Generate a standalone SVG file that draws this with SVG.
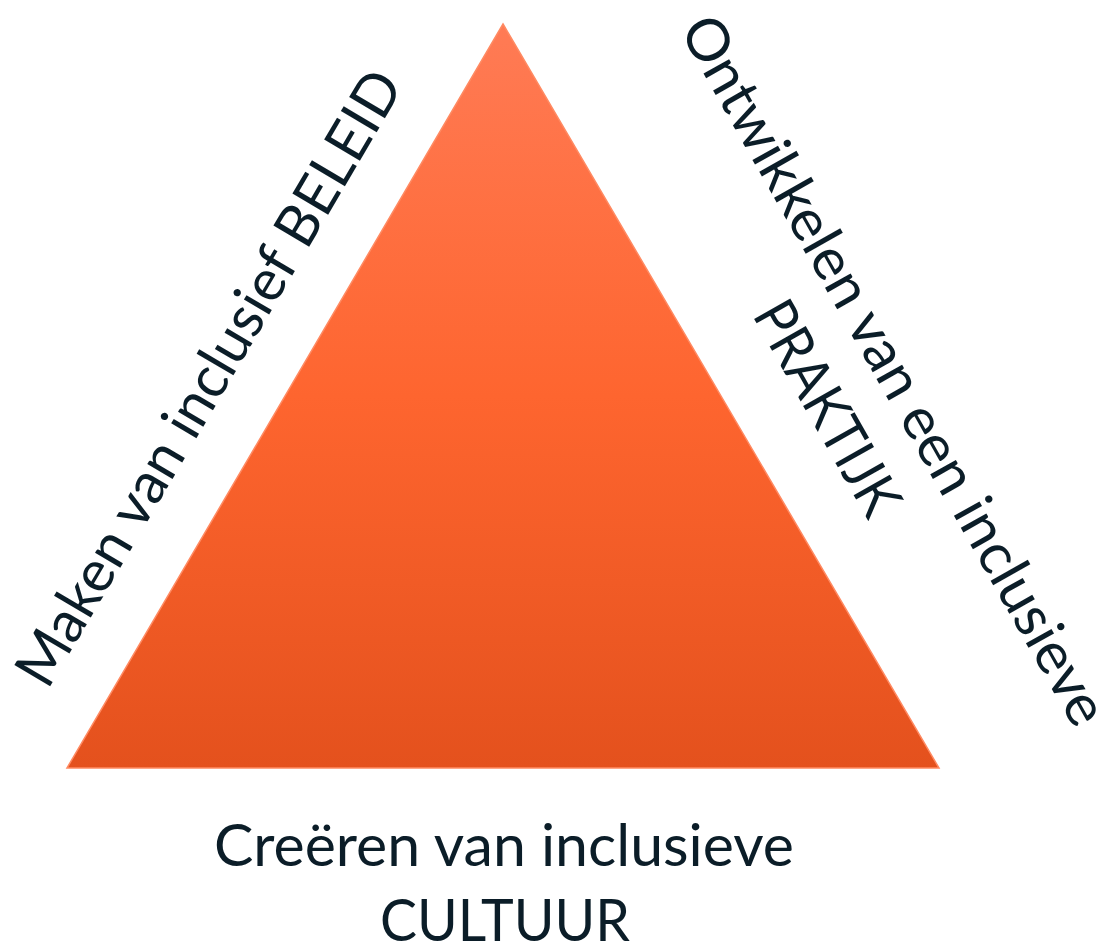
<svg xmlns="http://www.w3.org/2000/svg" width="1099" height="946" viewBox="0 0 1099 946">
  <defs>
    <linearGradient id="triFill" x1="0" y1="0" x2="0" y2="1">
      <stop offset="0" stop-color="#FF7B55"/>
      <stop offset="0.5" stop-color="#FE652F"/>
      <stop offset="1" stop-color="#E4511D"/>
    </linearGradient>
    <style>
      .lbl { font-family: Lato, "Open Sans", "Liberation Sans", sans-serif; font-size: 58px; fill: #0B1D28; text-anchor: middle; }
    </style>
  </defs>
  <rect width="1099" height="946" fill="#FFFFFF"/>
  <g id="triangle">
    <polygon points="503,24 939,768 67,768" fill="url(#triFill)" stroke="#FF8A62" stroke-width="1.5"/>
  </g>
  <g id="label-beleid">
    <text class="lbl" transform="translate(226,388) rotate(-59.5)" x="0" y="0" textLength="703" lengthAdjust="spacingAndGlyphs">Maken van inclusief BELEID</text>
  </g>
  <g id="label-praktijk">
    <text class="lbl" transform="translate(877,380) rotate(60.5)" x="0" y="0" textLength="805" lengthAdjust="spacingAndGlyphs">Ontwikkelen van een inclusieve</text>
    <text class="lbl" transform="translate(810,418) rotate(60.5)" x="0" y="0" textLength="237" lengthAdjust="spacingAndGlyphs">PRAKTIJK</text>
  </g>
  <g id="label-cultuur">
    <text class="lbl" x="504" y="866" textLength="580" lengthAdjust="spacingAndGlyphs">Creëren van inclusieve</text>
    <text class="lbl" x="505" y="941" textLength="250" lengthAdjust="spacingAndGlyphs">CULTUUR</text>
  </g>
  <g id="connectors"/>
</svg>
